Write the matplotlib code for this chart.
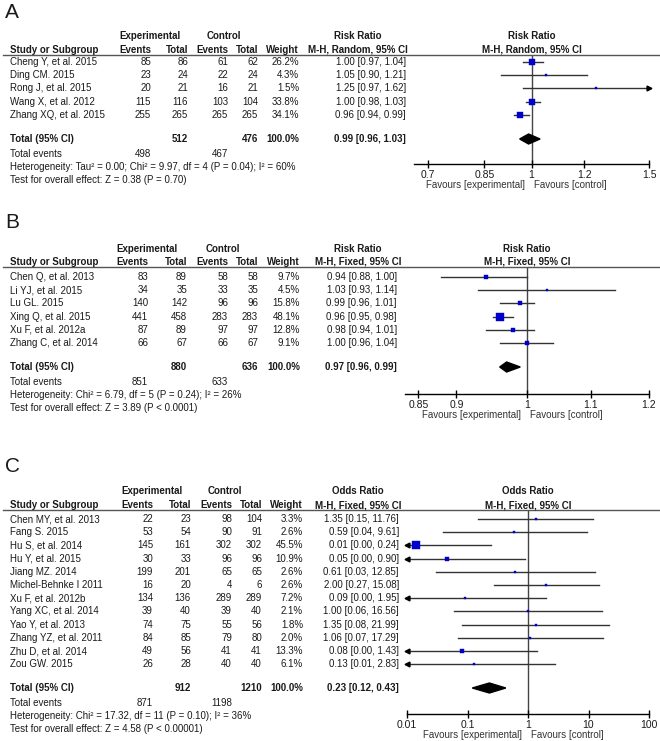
import numpy as np
import matplotlib.pyplot as plt
import matplotlib.transforms as mtransforms
from matplotlib.patches import Polygon
from matplotlib.lines import Line2D

plt.rcParams['font.family'] = ['Liberation Sans', 'DejaVu Sans']

# ---------------- data ----------------
# Panel A: risk ratio, M-H random
studies_a = ["Cheng Y, et al. 2015", "Ding CM. 2015", "Rong J, et al. 2015",
             "Wang X, et al. 2012", "Zhang XQ, et al. 2015"]
exp_events_a = [85, 23, 20, 115, 255]
exp_total_a = [86, 24, 21, 116, 265]
ctl_events_a = [61, 22, 16, 103, 265]
ctl_total_a = [62, 24, 21, 104, 265]
weight_a = [26.2, 4.3, 1.5, 33.8, 34.1]
est_a = [1.00, 1.05, 1.25, 1.00, 0.96]
lo_a = [0.97, 0.90, 0.97, 0.98, 0.94]
hi_a = [1.04, 1.21, 1.62, 1.03, 0.99]
total_a = dict(exp_total=512, ctl_total=476, exp_events=498, ctl_events=467,
               est=0.99, lo=0.96, hi=1.03)
het_a = "Heterogeneity: Tau\u00b2 = 0.00; Chi\u00b2 = 9.97, df = 4 (P = 0.04); I\u00b2 = 60%"
test_a = "Test for overall effect: Z = 0.38 (P = 0.70)"

# Panel B: risk ratio, M-H fixed
studies_b = ["Chen Q, et al. 2013", "Li YJ, et al. 2015", "Lu GL. 2015",
             "Xing Q, et al. 2015", "Xu F, et al. 2012a", "Zhang C, et al. 2014"]
exp_events_b = [83, 34, 140, 441, 87, 66]
exp_total_b = [89, 35, 142, 458, 89, 67]
ctl_events_b = [58, 33, 96, 283, 97, 66]
ctl_total_b = [58, 35, 96, 283, 97, 67]
weight_b = [9.7, 4.5, 15.8, 48.1, 12.8, 9.1]
est_b = [0.94, 1.03, 0.99, 0.96, 0.98, 1.00]
lo_b = [0.88, 0.93, 0.96, 0.95, 0.94, 0.96]
hi_b = [1.00, 1.14, 1.01, 0.98, 1.01, 1.04]
total_b = dict(exp_total=880, ctl_total=636, exp_events=851, ctl_events=633,
               est=0.97, lo=0.96, hi=0.99)
het_b = "Heterogeneity: Chi\u00b2 = 6.79, df = 5 (P = 0.24); I\u00b2 = 26%"
test_b = "Test for overall effect: Z = 3.89 (P < 0.0001)"

# Panel C: odds ratio, M-H fixed
studies_c = ["Chen MY, et al. 2013", "Fang S. 2015", "Hu S, et al. 2014",
             "Hu Y, et al. 2015", "Jiang MZ. 2014", "Michel-Behnke I 2011",
             "Xu F, et al. 2012b", "Yang XC, et al. 2014", "Yao Y, et al. 2013",
             "Zhang YZ, et al. 2011", "Zhu D, et al. 2014", "Zou GW. 2015"]
exp_events_c = [22, 53, 145, 30, 199, 16, 134, 39, 74, 84, 49, 26]
exp_total_c = [23, 54, 161, 33, 201, 20, 136, 40, 75, 85, 56, 28]
ctl_events_c = [98, 90, 302, 96, 65, 4, 289, 39, 55, 79, 41, 40]
ctl_total_c = [104, 91, 302, 96, 65, 6, 289, 40, 56, 80, 41, 40]
weight_c = [3.3, 2.6, 45.5, 10.9, 2.6, 2.6, 7.2, 2.1, 1.8, 2.0, 13.3, 6.1]
est_c = [1.35, 0.59, 0.014, 0.046, 0.61, 2.00, 0.09, 1.00, 1.35, 1.06, 0.08, 0.13]
lo_c = [0.15, 0.04, 0.0008, 0.002, 0.03, 0.27, 0.004, 0.06, 0.08, 0.07, 0.004, 0.006]
hi_c = [11.76, 9.61, 0.24, 0.90, 12.85, 15.08, 1.95, 16.56, 21.99, 17.29, 1.43, 2.83]
total_c = dict(exp_total=912, ctl_total=1210, exp_events=871, ctl_events=1198,
               est=0.23, lo=0.12, hi=0.43)
het_c = "Heterogeneity: Chi\u00b2 = 17.32, df = 11 (P = 0.10); I\u00b2 = 36%"
test_c = "Test for overall effect: Z = 4.58 (P < 0.00001)"

# ---------------- drawing ----------------
W, H = 660, 741
fig = plt.figure(figsize=(6.6, 7.41), dpi=100)
TXT = '#1a1a1a'
BLUE = '#0000cc'
FS = 7


def fx(px):
    return px / W


def fy(py):
    return 1 - py / H


def put(x, y, s, ha='left', bold=False, size=FS):
    fig.text(fx(x), fy(y), s, ha=ha, va='center', fontsize=size, color=TXT,
             fontweight='bold' if bold else 'normal')


def panel(letter, studies, e_ev, e_tot, c_ev, c_tot, wts, est, lo, hi, tot,
          het, test, measure, method, xlim, ticks, ticklabels, lay):
    cols = lay['cols']
    put(5, lay['label_y'], letter, size=15)
    # header
    put(lay['exp_cx'], lay['h1'], "Experimental", ha='center', bold=True)
    put(lay['ctl_cx'], lay['h1'], "Control", ha='center', bold=True)
    put(358, lay['h1'], measure, ha='center', bold=True)
    put(10, lay['h2'], "Study or Subgroup", bold=True)
    for x, s in zip(cols[:5], ["Events", "Total", "Events", "Total", "Weight"]):
        put(x, lay['h2'], s, ha='right', bold=True)
    put(358, lay['h2'], method, ha='center', bold=True)
    fig.add_artist(Line2D([fx(3), fx(660)], [fy(lay['line'])] * 2,
                          color='#555555', lw=1))

    rows = lay['row0'] + 13.2 * np.arange(len(studies))
    for i, y in enumerate(rows):
        put(10, y, studies[i])
        vals = [str(e_ev[i]), str(e_tot[i]), str(c_ev[i]), str(c_tot[i]),
                f"{wts[i]:.1f}%",
                f"{est[i]:.2f} [{lo[i]:.2f}, {hi[i]:.2f}]"]
        for x, s in zip(cols, vals):
            put(x, y, s, ha='right')

    ty = lay['total']
    put(10, ty, "Total (95% CI)", bold=True)
    put(cols[1], ty, str(tot['exp_total']), ha='right', bold=True)
    put(cols[3], ty, str(tot['ctl_total']), ha='right', bold=True)
    put(cols[4], ty, "100.0%", ha='right', bold=True)
    put(cols[5], ty, f"{tot['est']:.2f} [{tot['lo']:.2f}, {tot['hi']:.2f}]",
        ha='right', bold=True)
    put(10, ty + 15, "Total events")
    put(cols[0], ty + 15, str(tot['exp_events']), ha='right')
    put(cols[2], ty + 15, str(tot['ctl_events']), ha='right')
    put(10, ty + 28, het)
    put(10, ty + 41, test)

    # forest plot
    ay = lay['axis']
    axl = lay['axis_left']
    ax = fig.add_axes([fx(axl), fy(ay), fx(649) - fx(axl), (ay - lay['line']) / H])
    ax.set_xscale('log')
    ax.set_xlim(xlim)
    ax.set_ylim(ay, lay['line'])
    ax.patch.set_alpha(0)
    for sp in ['top', 'left', 'right']:
        ax.spines[sp].set_visible(False)
    ax.spines['bottom'].set_linewidth(1)
    ax.axvline(1, color='#444444', lw=1, zorder=1)
    for i, y in enumerate(rows):
        a = max(lo[i], xlim[0])
        b = min(hi[i], xlim[1])
        ax.plot([a, b], [y, y], color='#333333', lw=1, zorder=2)
        if lo[i] < xlim[0]:
            ax.plot(xlim[0], y, marker='<', ms=3.5, color='k', clip_on=False, zorder=3)
        if hi[i] > xlim[1]:
            ax.plot(xlim[1], y, marker='>', ms=3.5, color='k', clip_on=False, zorder=3)
        side = max(2.0, 1.05 * np.sqrt(wts[i]))
        ax.plot(est[i], y, marker='s', ms=side * 0.72, color=BLUE, mec=BLUE,
                mew=0.3, zorder=4)
    ax.add_patch(Polygon([[tot['lo'], ty], [tot['est'], ty - 5],
                          [tot['hi'], ty], [tot['est'], ty + 5]],
                         closed=True, color='black', zorder=4))
    ax.set_yticks([])
    ax.minorticks_off()
    ax.set_xticks(ticks)
    ax.set_xticklabels(ticklabels)
    ax.tick_params(axis='x', which='both', direction='inout', length=6, width=1,
                   labelsize=7.5, pad=1, colors='black', labelcolor=TXT)
    ax.minorticks_off()
    # column headers above the plot
    cx = fx((axl + 649) / 2)
    fig.text(cx, fy(lay['h1']), measure, ha='center', va='center', fontsize=FS,
             fontweight='bold', color=TXT)
    fig.text(cx, fy(lay['h2']), method, ha='center', va='center', fontsize=FS,
             fontweight='bold', color=TXT)
    left_t = mtransforms.offset_copy(ax.transData, fig=fig, x=-6, y=0, units='dots')
    right_t = mtransforms.offset_copy(ax.transData, fig=fig, x=3, y=0, units='dots')
    ax.text(1, ay + 21, "Favours [experimental]", transform=left_t, ha='right',
            va='center', fontsize=FS, color='#333333')
    ax.text(1, ay + 21, "Favours [control]", transform=right_t, ha='left',
            va='center', fontsize=FS, color='#333333')


panel("A", studies_a, exp_events_a, exp_total_a, ctl_events_a, ctl_total_a,
      weight_a, est_a, lo_a, hi_a, total_a, het_a, test_a,
      "Risk Ratio", "M-H, Random, 95% CI", (1 / 1.5, 1.5),
      [0.7, 0.85, 1, 1.2, 1.5], ["0.7", "0.85", "1", "1.2", "1.5"],
      dict(label_y=13, h1=36, h2=50, line=55, row0=62, total=139, axis=164,
           axis_left=414, exp_cx=150, ctl_cx=224,
           cols=[151, 188, 228, 258, 299, 406]))

panel("B", studies_b, exp_events_b, exp_total_b, ctl_events_b, ctl_total_b,
      weight_b, est_b, lo_b, hi_b, total_b, het_b, test_b,
      "Risk Ratio", "M-H, Fixed, 95% CI", (1 / 1.2, 1.2),
      [0.85, 0.9, 1, 1.1, 1.2], ["0.85", "0.9", "1", "1.1", "1.2"],
      dict(label_y=222, h1=249, h2=262, line=267, row0=277, total=367, axis=394,
           axis_left=405, exp_cx=147, ctl_cx=223,
           cols=[148, 187, 228, 258, 300, 397]))

panel("C", studies_c, exp_events_c, exp_total_c, ctl_events_c, ctl_total_c,
      weight_c, est_c, lo_c, hi_c, total_c, het_c, test_c,
      "Odds Ratio", "M-H, Fixed, 95% CI", (0.01, 100),
      [0.01, 0.1, 1, 10, 100], ["0.01", "0.1", "1", "10", "100"],
      dict(label_y=466, h1=491, h2=505, line=510, row0=519, total=688, axis=714,
           axis_left=407, exp_cx=152, ctl_cx=225,
           cols=[153, 191, 232, 262, 303, 399]))

fig.savefig("out.png", dpi=100)
